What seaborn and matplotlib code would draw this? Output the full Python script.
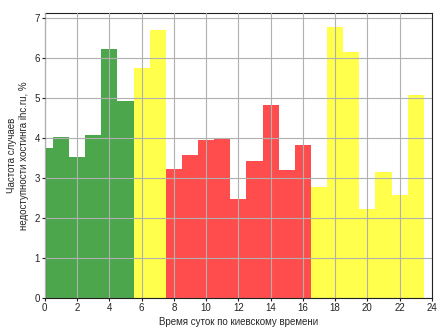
import matplotlib
matplotlib.use("Agg")
import matplotlib.pyplot as plt
import seaborn as sns
import pandas as pd

hours = list(range(24))
values = [3.75, 4.03, 3.53, 4.08, 6.22, 4.93, 5.75, 6.70,
          3.22, 3.57, 3.95, 3.99, 2.48, 3.42, 4.82, 3.21,
          3.82, 2.78, 6.78, 6.15, 2.23, 3.15, 2.58, 5.08]
groups = (["night"] * 6 + ["morning"] * 2 + ["day"] * 9 + ["evening"] * 7)
palette = {"night": "green", "morning": "yellow", "day": "red", "evening": "yellow"}

df = pd.DataFrame({"hour": hours, "value": values, "group": groups})

sns.set_style("white")
plt.rcParams['font.family'] = ['Liberation Sans', 'DejaVu Sans']

fig = plt.figure(figsize=(4.48, 3.36), dpi=100)
ax = fig.add_axes([0.1, 0.113, 0.864, 0.847])
sns.barplot(data=df, x="hour", y="value", hue="group", palette=palette,
            native_scale=True, width=1, dodge=False, alpha=0.7,
            linewidth=0, saturation=1, legend=False, ax=ax, errorbar=None)
ax.set_xlim(0, 24)
ax.set_ylim(0, 7.12)
ax.set_xticks(range(0, 25, 2))
ax.set_yticks(range(0, 8))
ax.set_axisbelow(False)
ax.grid(True, color="#b0b0b0", linewidth=0.8)
for s in ax.spines.values():
    s.set_visible(True)
    s.set_color("#222222")
    s.set_linewidth(0.8)
ax.tick_params(axis="both", labelsize=7, direction="out", length=2, width=0.8,
               pad=1.5, bottom=True, left=True, colors="#222222")
ax.set_xlabel("Время суток по киевскому времени", fontsize=7, labelpad=3)
ax.set_ylabel("Частота случаев\nнедоступности хостинга ihc.ru, %", fontsize=7, labelpad=4)
fig.savefig("out.png", dpi=100)
